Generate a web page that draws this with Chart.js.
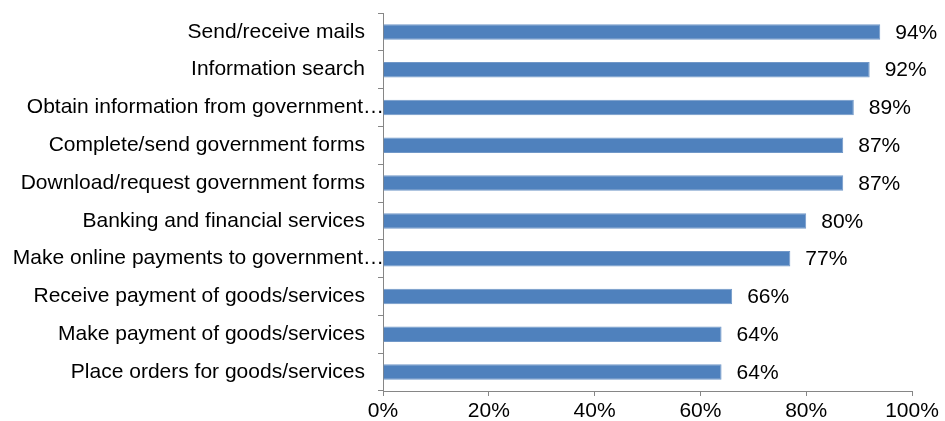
<!DOCTYPE html>
<html>
<head>
<meta charset="utf-8">
<script src="https://cdn.jsdelivr.net/npm/chart.js@4/dist/chart.umd.min.js"></script>
<style>
  html, body { margin: 0; padding: 0; background: #fff; }
  #wrap { width: 945px; height: 421px; }
</style>
</head>
<body>
<div id="wrap"><canvas id="usageChart"></canvas></div>
<script>
// Internet activities, share of respondents (%)
const activities = [
    'Send/receive mails',
    'Information search',
    'Obtain information from government\u2026',
    'Complete/send government forms',
    'Download/request government forms',
    'Banking and financial services',
    'Make online payments to government\u2026',
    'Receive payment of goods/services',
    'Make payment of goods/services',
    'Place orders for goods/services'
];
const shares = [94, 92, 89, 87, 87, 80, 77, 66, 64, 64];
const xTicks = [0, 20, 40, 60, 80, 100];

const axisGrey = '#868686';
const fontSpec = { family: "'Liberation Sans', Arial, sans-serif", size: 21 };
const isCut = s => s.endsWith('\u2026');

// Percentage labels right of each bar, plus the clipped category names,
// which run right up to the axis line
const valueLabels = {
    id: 'valueLabels',
    afterDatasetsDraw(chart) {
        const ctx = chart.ctx;
        const meta = chart.getDatasetMeta(0);
        const yScale = chart.scales.y;
        ctx.save();
        ctx.font = `${fontSpec.size}px ${fontSpec.family}`;
        ctx.fillStyle = '#000';
        ctx.textBaseline = 'middle';
        ctx.textAlign = 'left';
        meta.data.forEach((bar, i) => {
            ctx.fillText(shares[i] + '%', bar.x + 15, bar.y + 1);
        });
        ctx.textAlign = 'right';
        activities.forEach((name, i) => {
            if (isCut(name)) {
                ctx.fillText(name, yScale.right + 1, yScale.getPixelForTick(i));
            }
        });
        ctx.restore();
    }
};

const ctx = document.getElementById('usageChart').getContext('2d');
const chart = new Chart(ctx, {
    type: 'bar',
    data: {
        labels: activities,
        datasets: [{
            data: shares,
            backgroundColor: '#4F81BD',
            borderColor: '#7198C8',
            borderWidth: 1,
            barPercentage: 0.41,
            categoryPercentage: 1.0
        }]
    },
    options: {
        indexAxis: 'y',
        responsive: true,
        maintainAspectRatio: false,
        animation: false,
        layout: { padding: { top: 13, right: 33, left: 0, bottom: 0 } },
        plugins: {
            legend: { display: false },
            tooltip: { enabled: false }
        },
        scales: {
            x: {
                min: 0,
                max: 100,
                afterBuildTicks(scale) {
                    scale.ticks = xTicks.map(v => ({ value: v }));
                },
                afterFit(scale) {
                    scale.height = 30;
                    scale.paddingLeft = 0;
                    scale.paddingRight = 0;
                },
                grid: {
                    drawOnChartArea: false,
                    drawTicks: true,
                    tickLength: 5,
                    color: axisGrey
                },
                border: { display: true, color: axisGrey, width: 1 },
                ticks: {
                    padding: 3,
                    color: '#000',
                    font: fontSpec,
                    callback: v => v + '%'
                }
            },
            y: {
                afterFit(scale) {
                    scale.width = 383;
                    scale.paddingTop = 0;
                    scale.paddingBottom = 0;
                },
                grid: {
                    offset: true,
                    drawOnChartArea: false,
                    drawTicks: true,
                    tickLength: 5,
                    color: axisGrey
                },
                border: { display: true, color: axisGrey, width: 1 },
                ticks: {
                    padding: 13,
                    color: '#000',
                    font: fontSpec,
                    autoSkip: false,
                    // clipped names are drawn by the plugin above
                    callback(value) {
                        const name = this.getLabelForValue(value);
                        return isCut(name) ? '' : name;
                    }
                }
            }
        }
    },
    plugins: [valueLabels]
});
</script>
</body>
</html>
